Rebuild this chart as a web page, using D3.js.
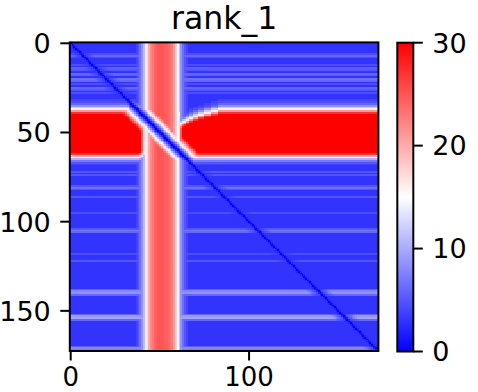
<!DOCTYPE html>
<html><head><meta charset="utf-8">
<script src="https://cdn.jsdelivr.net/npm/d3@7"></script>
<style>body{margin:0;background:#fff}svg{display:block}text{font-family:"DejaVu Sans",sans-serif;fill:#000}</style>
</head><body>
<svg id="chart" width="478" height="392"></svg>
<script>
// ---- data ----
const title = "rank_1";
const N = 173;                       // matrix size (rows = columns)
const xTicks = [0, 100];
const yTicks = [0, 50, 100, 150];
const colorTicks = [0, 10, 20, 30];
const colorDomain = [0, 30];
const bgValue = 3;                   // typical background value
// light horizontal streaks: row index and value
const streakRows   = [6, 7, 8, 12, 14, 15, 17, 18, 20, 21, 23, 25, 26, 28, 72, 74, 80, 81, 82, 86, 95, 104, 105, 106, 118, 122, 138, 139, 140, 141, 152, 153, 154, 155, 170, 171, 172];
const streakValues = [4.5, 6, 4.5, 4.5, 5.5, 5, 6, 5.5, 6.5, 6, 4.5, 6, 5, 4.5, 5, 5, 5, 6.5, 5, 5, 4.5, 5, 7, 6, 4.5, 5, 5.5, 8, 8.5, 6, 6, 9, 9.5, 6, 5.5, 8, 7];
// horizontal band: value per row, starting at row hBandStart
const hBandStart = 32;
const hBandMid = 50;
const hBandProfile = [4, 4.5, 6, 8.5, 12, 16, 21, 27, 32,
  35, 35, 35, 35, 35, 35, 35, 35, 35, 35, 35, 35, 35, 35, 35, 35, 35, 35, 35, 35,
  33, 27, 20, 15, 10.5, 7, 5, 4];
// downward shift of the band's top edge at some columns (right of the crossing)
const hShiftCols   = [62, 63, 64, 65, 66, 67, 68, 69, 70, 71, 72, 73, 74, 75, 76, 77, 78, 79, 80, 81, 82];
const hShiftValues = [7, 7, 7, 6, 6, 5, 5, 4, 4, 4, 3, 3, 3, 2, 2, 2, 2, 1, 1, 1, 1];
// vertical band: value and weight per column, starting at column vBandStart
const vBandStart = 37;
const vBandProfile = [4, 5, 6.5, 8.5, 11, 14, 17, 20, 22, 23, 24, 24.5, 25, 25, 25, 25, 24.5, 24.5, 24, 23, 23, 21, 18, 15, 11.5, 8.5, 6.5, 5, 4];
const vBandWeight  = [0, 0, 0.1, 0.3, 0.5, 0.7, 0.85, 0.95, 1, 1, 1, 1, 1, 1, 1, 1, 1, 1, 1, 1, 1, 0.95, 0.85, 0.7, 0.5, 0.3, 0.1, 0, 0];
// values close to the diagonal, by distance |row - column|
const diagRamp = [0, 2, 5, 8, 11, 14, 17, 20, 23, 26, 29, 32];
// fading of the streaks close to the diagonal
const streakFade = [0, 0.1, 0.25, 0.4, 0.55, 0.7, 0.85, 1];

// ---- build the matrix ----
const streakMap = new Map(streakRows.map((r, k) => [r, streakValues[k]]));
const shiftMap = new Map(hShiftCols.map((c, k) => [c, hShiftValues[k]]));
function hVal(i) { const k = i - hBandStart; return (k >= 0 && k < hBandProfile.length) ? hBandProfile[k] : 0; }
function vVal(j) { const k = j - vBandStart; return (k >= 0 && k < vBandProfile.length) ? vBandProfile[k] : 0; }
function vW(j) { const k = j - vBandStart; return (k >= 0 && k < vBandWeight.length) ? vBandWeight[k] : 0; }
const cells = [];
for (let i = 0; i < N; i++) {
  for (let j = 0; j < N; j++) {
    const d = Math.abs(i - j);
    let v = bgValue;
    if (streakMap.has(i)) {
      const f = d < streakFade.length ? streakFade[d] : 1;
      v = bgValue + (streakMap.get(i) - bgValue) * f;
    }
    const ri = i < hBandMid ? i - (shiftMap.get(j) || 0) : i;
    const h = hVal(ri) * (1 - vW(j));
    v = Math.max(v, h, vVal(j));
    if (d < diagRamp.length) v = Math.min(v, diagRamp[d]);
    cells.push({ row: i, col: j, value: v });
  }
}

// ---- layout ----
const svg = d3.select("#chart");
const L = 69.8, R = 378.4, T = 42.4, B = 351.0;
const x = d3.scaleLinear().domain([-0.5, N - 0.5]).range([L, R]);
const y = d3.scaleLinear().domain([-0.5, N - 0.5]).range([T, B]);
const color = d3.scaleLinear().domain([colorDomain[0], (colorDomain[0] + colorDomain[1]) / 2, colorDomain[1]])
  .range(["#0000ff", "#ffffff", "#ff0000"]).clamp(true);
const cw = x(1) - x(0), ch = y(1) - y(0);

svg.append("g").selectAll("rect").data(cells).join("rect")
  .attr("x", d => x(d.col - 0.5)).attr("y", d => y(d.row - 0.5))
  .attr("width", cw + 0.4).attr("height", ch + 0.4)
  .attr("fill", d => color(d.value))
  .attr("shape-rendering", "crispEdges");

const fs = 27, tickLen = 9.5, pad = 9.5;
// frame
svg.append("rect").attr("x", L).attr("y", T).attr("width", R - L).attr("height", B - T)
  .attr("fill", "none").attr("stroke", "#000").attr("stroke-width", 2);
// x axis
const xg = svg.append("g");
xTicks.forEach(t => {
  xg.append("line").attr("x1", x(t)).attr("x2", x(t)).attr("y1", B).attr("y2", B + tickLen).attr("stroke", "#000").attr("stroke-width", 2);
  xg.append("text").attr("x", x(t)).attr("y", 385.8).attr("text-anchor", "middle").attr("font-size", 26).text(t);
});
// y axis
const yg = svg.append("g");
yTicks.forEach(t => {
  yg.append("line").attr("x1", L - tickLen).attr("x2", L).attr("y1", y(t)).attr("y2", y(t)).attr("stroke", "#000").attr("stroke-width", 2);
  yg.append("text").attr("x", L - tickLen - pad).attr("y", y(t) + 0.729 * fs / 2).attr("text-anchor", "end").attr("font-size", fs).text(t);
});
// title
svg.append("text").attr("x", (L + R) / 2).attr("y", 28.5).attr("text-anchor", "middle").attr("font-size", 31.5).text(title);

// colorbar
const cbL = 397.3, cbR = 413.3, cbT = 42.7, cbB = 351.5;
const cy = d3.scaleLinear().domain(colorDomain).range([cbB, cbT]);
const defs = svg.append("defs");
const grad = defs.append("linearGradient").attr("id", "cbgrad").attr("x1", 0).attr("y1", 1).attr("x2", 0).attr("y2", 0);
[0, 0.5, 1].forEach(o => grad.append("stop").attr("offset", o).attr("stop-color", color(colorDomain[0] + o * (colorDomain[1] - colorDomain[0]))));
svg.append("rect").attr("x", cbL).attr("y", cbT).attr("width", cbR - cbL).attr("height", cbB - cbT)
  .attr("fill", "url(#cbgrad)").attr("stroke", "#000").attr("stroke-width", 2);
colorTicks.forEach(t => {
  svg.append("line").attr("x1", cbR).attr("x2", cbR + tickLen).attr("y1", cy(t)).attr("y2", cy(t)).attr("stroke", "#000").attr("stroke-width", 2);
  svg.append("text").attr("x", cbR + tickLen + pad).attr("y", cy(t) + 0.729 * fs / 2).attr("font-size", fs).text(t);
});
</script>
</body></html>
